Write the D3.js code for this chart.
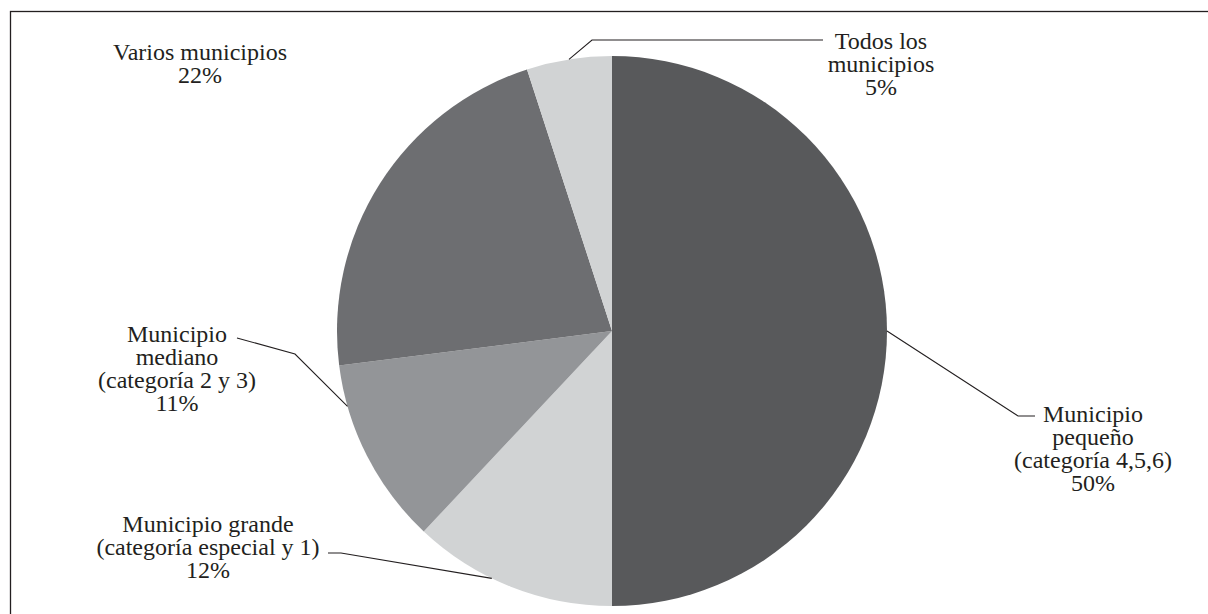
<!DOCTYPE html>
<html>
<head>
<meta charset="utf-8">
<script src="https://cdn.jsdelivr.net/npm/d3@7"></script>
<style>
  html, body { margin: 0; padding: 0; background: #fff; }
</style>
</head>
<body>
<svg id="chart" width="1208" height="614"></svg>
<script>
// slices, clockwise from 12 o'clock
const categories = [
    ["Municipio", "pequeño", "(categoría 4,5,6)"],
    ["Municipio grande", "(categoría especial y 1)"],
    ["Municipio", "mediano", "(categoría 2 y 3)"],
    ["Varios municipios"],
    ["Todos los", "municipios"]
];
const shares = [50, 12, 11, 22, 5];
const shareLabels = ["50%", "12%", "11%", "22%", "5%"];
const fills = ["#58595b", "#d1d3d4", "#939598", "#6d6e71", "#d1d3d4"];

// label placement: text centre x, first baseline y, where the leader hits the slice (0..1 of its arc)
// and leader polyline bends (null = no leader)
const labelLayout = [
    {x: 1093, y: 422, at: 0.5, bend: [[1018, 416], [1035, 416]]},
    {x: 208, y: 532, at: 0.6, bend: [[341, 553], [328, 553]]},
    {x: 177, y: 342, at: 0.78, bend: [[295, 354], [237, 338]]},
    {x: 200, y: 60, at: 0.5, bend: null},
    {x: 881, y: 49, at: 0.5, bend: [[592, 40], [823, 40]]}
];

const svg = d3.select("#chart");
const cx = 612, cy = 331, radius = 275;
const lineGap = 23;
const serif = "'Liberation Serif', 'Times New Roman', serif";

// frame (only top and left edges fall inside the picture)
svg.append("rect")
    .attr("x", 10.5).attr("y", 11.5)
    .attr("width", 1400).attr("height", 800)
    .attr("fill", "none")
    .attr("stroke", "#231f20")
    .attr("stroke-width", 1.3);

let pie = d3.pie().sort(null).value(d => d);
let arcs = pie(shares);
let arc = d3.arc().innerRadius(0).outerRadius(radius);

let g = svg.append("g")
    .attr("transform", "translate(" + cx + "," + cy + ")");

g.selectAll("path")
    .data(arcs)
    .enter().append("path")
    .attr("d", arc)
    .attr("fill", (d, i) => fills[i]);

// leader lines
arcs.forEach(function(d, i) {
    let lay = labelLayout[i];
    if (!lay.bend) return;
    let a = d.startAngle + lay.at * (d.endAngle - d.startAngle);
    let start = [cx + radius * Math.sin(a), cy - radius * Math.cos(a)];
    let pts = [start].concat(lay.bend);
    svg.append("path")
        .attr("d", d3.line()(pts))
        .attr("fill", "none")
        .attr("stroke", "#231f20")
        .attr("stroke-width", 1.1);
});

// labels
let labels = svg.selectAll("text.label")
    .data(arcs)
    .enter().append("text")
    .attr("class", "label")
    .attr("font-family", serif)
    .attr("font-size", 24)
    .attr("fill", "#231f20")
    .attr("text-anchor", "middle")
    .attr("x", (d, i) => labelLayout[i].x)
    .attr("y", (d, i) => labelLayout[i].y);

labels.each(function(d, i) {
    let lines = categories[i].concat([shareLabels[i]]);
    let t = d3.select(this);
    lines.forEach(function(s, j) {
        t.append("tspan")
            .attr("x", labelLayout[i].x)
            .attr("dy", j == 0 ? 0 : lineGap)
            .text(s);
    });
});
</script>
</body>
</html>
